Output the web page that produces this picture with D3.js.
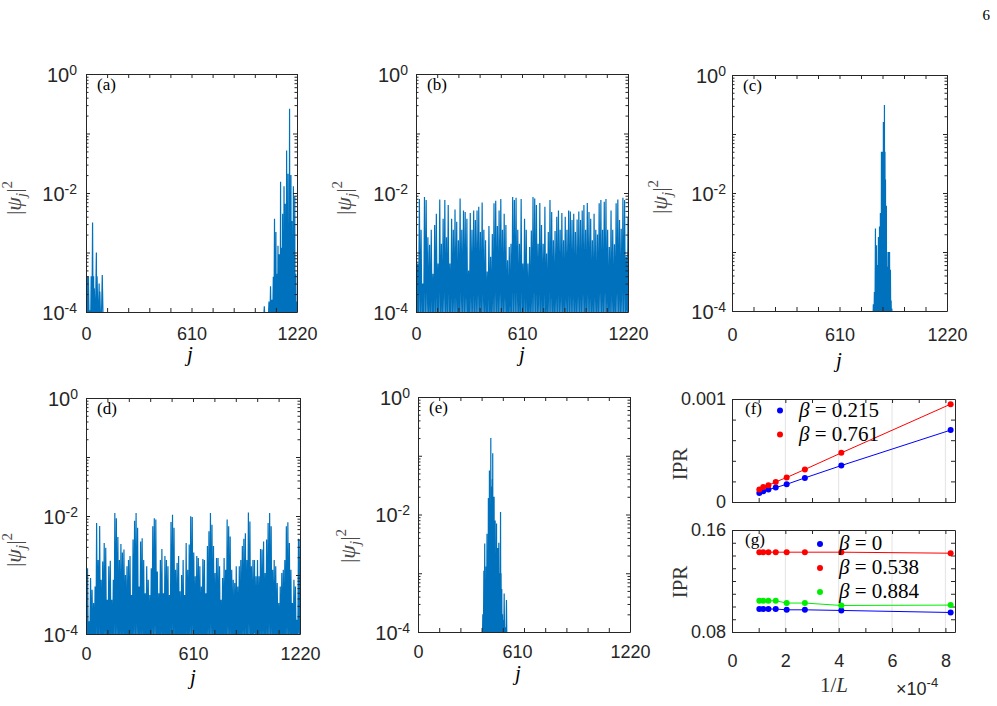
<!DOCTYPE html>
<html>
<head>
<meta charset="utf-8">
<script src="https://cdn.jsdelivr.net/npm/d3@7/dist/d3.min.js"></script>
<style>
  body { margin: 0; background: #fff; }
  svg { display: block; }
</style>
</head>
<body>
<svg id="fig" width="997" height="706"></svg>
<script>
// ---- data ----
const jMax = 1220;
const psiFloor = 5e-5; // dips just below the 1e-4 axis floor between spikes

// (a) two separated clusters, [j, |psi_j|^2]
const psiA = [[8,4e-4],[14,4e-4],[23,1.07e-4],[30,4e-4],[38,3.2e-3],[44,4e-4],[48,2.5e-4],[60,1.0e-3],[64,4e-4],[76,3e-4],[80,2.2e-4],[94,4.2e-4],
  [1031,1.25e-4],[1058,1.5e-4],[1067,2.7e-4],[1075,1.6e-4],[1083,3.9e-4],[1090,3.7e-3],[1094,6e-4],[1098,2.2e-3],[1102,3e-4],[1106,4.4e-4],
  [1110,1.3e-3],[1114,2.5e-4],[1117,9.3e-4],[1121,6e-4],[1125,0.0155],[1129,4e-4],[1133,1.2e-3],[1137,4.5e-3],[1141,8e-4],[1145,0.013],
  [1149,3e-4],[1152,6.6e-3],[1156,1.5e-3],[1160,0.052],[1164,6e-4],[1168,0.021],[1172,2e-3],[1177,0.26],[1181,1.1e-3],[1185,0.02],
  [1188,5e-4],[1191,3.4e-3],[1195,1e-3],[1199,0.013],[1203,6e-4],[1207,9e-3],[1210,3e-4],[1213,4.4e-4],[1217,1.5e-4]];

// (b) extended state, spike heights sampled evenly over j
const psiB = [3.9e-3,6.5e-4,7.9e-3,2.4e-3,3.0e-4,8.6e-3,7.6e-3,1.8e-3,1.35e-3,2.4e-3,
  4.4e-4,2.9e-3,4.5e-3,6.5e-4,7.8e-3,1.4e-3,3.7e-3,7.6e-3,1.8e-3,6.3e-3,
  6.5e-4,3.7e-3,2.4e-3,5.3e-3,3.3e-3,1.6e-3,8.1e-3,2.4e-3,5.1e-3,4.8e-3,
  3.7e-3,5.0e-4,4.6e-3,2.4e-3,5.1e-3,3.5e-3,5.1e-3,5.9e-3,2.2e-3,6.9e-3,
  2.4e-3,1.6e-3,4.8e-4,2.8e-3,8.5e-4,2.05e-3,6.7e-3,7.4e-3,2.8e-3,5.1e-3,
  7.9e-3,2.4e-3,4.5e-3,2.9e-3,7.4e-4,1.24e-3,1.4e-3,8.6e-3,7.6e-3,8.3e-3,
  2.4e-3,1.4e-3,7.9e-3,6.5e-4,3.7e-3,2.4e-3,6.5e-4,1.24e-3,2.35e-3,8.6e-3,
  8.1e-3,6.3e-3,1.4e-3,6.8e-3,2.9e-3,1.4e-3,5.9e-3,9.6e-4,2.2e-3,7.6e-3,
  4.8e-3,1.6e-3,2.3e-3,4.0e-3,5.1e-3,2.4e-3,4.6e-3,1.6e-3,4.0e-3,2.4e-3,
  5.1e-3,4.9e-3,3.5e-3,4.5e-3,2.2e-3,3.6e-3,4.9e-3,3.5e-3,5.1e-3,6.3e-3,
  2.4e-3,6.8e-3,4.8e-3,3.7e-3,1.6e-3,4.5e-3,2.4e-3,2.0e-3,6.7e-3,7.6e-3,
  2.4e-3,7.1e-3,7.9e-3,2.4e-3,1.24e-3,5.1e-3,2.4e-3,1.38e-3,6.7e-3,7.8e-3,
  3.5e-3,2.5e-3,8.3e-3,7.6e-3,8.5e-4,3.9e-3];

// (c) localized state, [j, |psi_j|^2]
const psiC = [[802,1.3e-4],[808,2.1e-4],[814,2.5e-3],[817,4e-4],[820,1.3e-3],[825,6e-4],[831,1.8e-3],[834,5e-4],[837,2.7e-3],[840,1.2e-3],
  [842,4.6e-3],[845,2e-3],[848,0.05],[851,0.01],[854,0.05],[857,0.02],[859,0.16],[862,0.04],[865,0.31],[868,0.05],[871,0.017],
  [874,3e-3],[876,6.1e-3],[879,1e-3],[882,5.6e-4],[885,2e-4],[888,1e-3],[891,3e-4],[894,1e-3],[897,2e-4],[899,5e-4],[903,1.5e-4],[907,1.1e-4]];

// (d) extended state, spike heights sampled evenly over j
const psiD = [3.0e-3,1.3e-3,1.64e-4,8.9e-4,5.6e-4,3.35e-4,6.4e-4,7.6e-3,1.8e-3,6.8e-3,
  8.3e-4,1.7e-3,3.5e-3,2.9e-3,3.8e-4,1.4e-3,1.75e-3,3.8e-4,8.3e-4,0.0112,
  9.2e-3,4.4e-3,1.8e-3,3.35e-3,2.4e-3,2.7e-3,1.0e-3,1.4e-3,1.8e-3,2.1e-3,
  4.6e-4,4.0e-3,8.3e-3,0.0112,6.3e-3,6.4e-4,3.7e-3,4.2e-3,1.8e-3,4.9e-4,
  1.4e-3,8.3e-4,4.6e-4,1.3e-3,6.7e-3,9.2e-3,8.7e-3,1.15e-3,4.9e-4,1.8e-3,
  2.75e-3,4.9e-4,2.1e-3,1.8e-3,1.4e-3,4.6e-4,7.9e-3,0.0105,6.3e-3,1.23e-3,
  1.6e-3,2.1e-3,5.3e-4,1.0e-3,1.8e-3,4.6e-4,3.5e-3,1.23e-3,3.3e-3,9.9e-3,
  9.6e-3,2.4e-3,9.5e-4,2.1e-3,1.94e-3,1.4e-3,6.4e-4,1.87e-3,1.8e-3,4.9e-4,
  3.1e-3,5.5e-3,0.0112,7.1e-3,3.1e-3,1.08e-3,1.94e-3,1.94e-3,1.4e-3,3.8e-4,
  8.9e-4,1.94e-3,1.23e-3,8.7e-3,6.7e-3,4.5e-3,1.23e-3,8.3e-4,7.3e-4,1.4e-3,
  6.4e-4,1.4e-3,1.8e-3,3.1e-3,4.1e-3,5.1e-3,1.8e-3,0.0115,8.1e-3,1.4e-3,
  1.8e-3,1.8e-3,9.5e-4,1.8e-3,9.5e-4,2.75e-3,2.7e-3,3.7e-3,1.08e-3,4.0e-3,
  7.6e-3,0.0112,6.7e-3,1.23e-3,1.8e-3,1.4e-3,7.3e-4,3.35e-4,6.4e-4,1.08e-3,
  1.23e-3,1.8e-3,6.7e-3,7.8e-3,3.5e-3,1.23e-3,3.35e-4,8.3e-4,6.4e-4,1.75e-4,
  4.1e-3,4.0e-3];

// (e) localized state, [j, |psi_j|^2]
const psiE = [[373,2e-4],[379,1.1e-3],[384,3.2e-3],[388,3e-4],[392,1.3e-3],[397,4.7e-3],[401,8e-4],[405,0.019],[408,3e-3],[411,0.056],
  [415,0.01],[419,0.2],[422,0.03],[425,1.9e-3],[428,0.04],[430,0.11],[434,0.02],[438,0.02],[441,5e-3],[444,7.9e-3],[448,2e-3],
  [452,7e-3],[455,1.5e-3],[458,2.7e-3],[461,8e-4],[465,3.3e-3],[470,1e-3],[475,0.011],[478,1e-3],[482,5.4e-4],[486,2e-4],
  [490,1.6e-4],[496,4.5e-4],[502,1.2e-4],[509,3.5e-4]];

// (f), (g) IPR scaling, ordered by L
const sizesL = [1220, 2440, 3660, 4880, 6100, 7320, 8540, 9760];
const iprF = [
  { beta: "0.215", color: "#0000ff", values: [6.98e-4, 3.54e-4, 2.34e-4, 1.72e-4, 1.40e-4, 1.21e-4, 1.04e-4, 0.88e-4] },
  { beta: "0.761", color: "#ff0000", values: [9.5e-4, 4.77e-4, 3.16e-4, 2.38e-4, 1.95e-4, 1.63e-4, 1.46e-4, 1.21e-4] }
];
const iprG = [
  { beta: "0", color: "#0000ff", values: [0.0953, 0.0969, 0.0974, 0.0974, 0.098, 0.098, 0.098, 0.098] },
  { beta: "0.538", color: "#ff0000", values: [0.1418, 0.1426, 0.1426, 0.1426, 0.1426, 0.1426, 0.1426, 0.1426] },
  { beta: "0.884", color: "#00ee00", values: [0.1011, 0.1008, 0.1027, 0.1027, 0.1045, 0.1045, 0.1045, 0.1045] }
];

// ---- drawing ----
const svg = d3.select("#fig");
const axisColor = "#262626";
const traceColor = "#0072bd";
const sansFont = "'Liberation Sans', Arial, sans-serif";
const serifFont = "'Liberation Serif', 'Times New Roman', serif";

// page number
svg.append("text").attr("x", 990).attr("y", 20).attr("text-anchor", "end")
  .attr("font-family", serifFont).attr("font-size", 15).text("6");

function evenly(values) {
  return values.map((v, i) => [i * jMax / (values.length - 1), v]);
}

// spike trace: each reading is a narrow spike that falls just below the axis on both sides
function trace(peaks) {
  const pts = [];
  peaks.forEach((p, i) => {
    const prev = peaks[i - 1], next = peaks[i + 1];
    const left = prev ? Math.min((p[0] - prev[0]) / 2, 6) : 3;
    const right = next ? Math.min((next[0] - p[0]) / 2, 6) : 3;
    pts.push([p[0] - left, psiFloor], p, [p[0] + right, psiFloor]);
  });
  return pts;
}

function styleAxis(sel) {
  sel.attr("color", axisColor).attr("font-family", sansFont).attr("font-size", 18);
  sel.selectAll("text").attr("fill", axisColor);
}

function drawPsiPanel(p) {
  const [x0, x1, y0, y1] = p.box;
  const x = d3.scaleLinear().domain([0, jMax]).range([x0, x1]);
  const y = d3.scaleLog().domain([1e-4, 1]).range([y1, y0]);
  const g = svg.append("g");

  g.append("clipPath").attr("id", "clip-" + p.name)
    .append("rect").attr("x", x0).attr("y", y0).attr("width", x1 - x0).attr("height", y1 - y0);

  g.append("path")
    .datum(trace(p.peaks))
    .attr("clip-path", `url(#clip-${p.name})`)
    .attr("fill", "none")
    .attr("stroke", traceColor)
    .attr("stroke-width", 1.2)
    .attr("d", d3.line().x(d => x(d[0])).y(d => y(d[1])));

  const xTicks = d3.range(0, jMax + 1, 122);
  const allY = y.ticks();
  const majorY = allY.filter(v => Math.abs(Math.log10(v) - Math.round(Math.log10(v))) < 1e-9);
  const minorY = allY.filter(v => !majorY.includes(v));

  // bottom with labels
  const bx = g.append("g").attr("transform", `translate(0,${y1})`)
    .call(d3.axisBottom(x).tickValues(xTicks).tickSizeInner(-4).tickSizeOuter(0).tickPadding(p.xPad)
      .tickFormat(d => (d === 0 || d === 610 || d === 1220) ? d : ""));
  styleAxis(bx);
  if (p.midShift) bx.selectAll(".tick text").filter(d => d === 610).attr("dx", p.midShift);
  // top
  styleAxis(g.append("g").attr("transform", `translate(0,${y0})`)
    .call(d3.axisTop(x).tickValues(xTicks).tickSizeInner(-4).tickSizeOuter(0).tickFormat("")));

  // left majors with 10^n labels
  const ly = g.append("g").attr("transform", `translate(${x0},0)`)
    .call(d3.axisLeft(y).tickValues(majorY).tickSizeInner(-4).tickSizeOuter(0).tickPadding(p.yPad).tickFormat(""));
  styleAxis(ly);
  ly.selectAll(".tick text").each(function (d) {
    const e = Math.round(Math.log10(d));
    if (e % 2 !== 0) return;
    const t = d3.select(this).attr("dy", "0.36em").attr("font-size", 20);
    t.append("tspan").text("10");
    t.append("tspan").attr("font-size", 14).attr("dy", "-0.5em").text(String(e));
  });
  styleAxis(g.append("g").attr("transform", `translate(${x0},0)`)
    .call(d3.axisLeft(y).tickValues(minorY).tickSizeInner(-2.5).tickSizeOuter(0).tickFormat(""))
    .call(s => s.select(".domain").remove()));
  // right
  styleAxis(g.append("g").attr("transform", `translate(${x1},0)`)
    .call(d3.axisRight(y).tickValues(majorY).tickSizeInner(-4).tickSizeOuter(0).tickFormat("")));
  styleAxis(g.append("g").attr("transform", `translate(${x1},0)`)
    .call(d3.axisRight(y).tickValues(minorY).tickSizeInner(-2.5).tickSizeOuter(0).tickFormat(""))
    .call(s => s.select(".domain").remove()));

  // panel label
  g.append("text").attr("x", x0 + 11).attr("y", y0 + 16)
    .attr("font-family", serifFont).attr("font-size", 17).text(`(${p.name})`);

  // x label
  g.append("text").attr("x", p.xLab[0]).attr("y", p.xLab[1]).attr("text-anchor", "middle")
    .attr("font-family", serifFont).attr("font-style", "italic").attr("font-size", 21).text("j");

  // y label |psi_j|^2
  const yl = g.append("text")
    .attr("transform", `translate(${p.yLab[0]},${p.yLab[1]}) rotate(-90)`)
    .attr("text-anchor", "middle").attr("font-family", serifFont)
    .attr("font-size", 22).attr("fill", "#4a4a4a");
  yl.append("tspan").text("|");
  yl.append("tspan").attr("font-style", "italic").text("ψ");
  yl.append("tspan").attr("font-style", "italic").attr("font-size", 15).attr("dy", 5).text("j");
  yl.append("tspan").attr("dy", -5).text("|");
  yl.append("tspan").attr("font-size", 15).attr("dy", -9).text("2");
}

drawPsiPanel({ name: "a", box: [86, 297, 74, 312], peaks: psiA, xPad: 15, yPad: 9, xLab: [190, 361], yLab: [21, 198] });
drawPsiPanel({ name: "b", box: [416, 628, 74, 312], peaks: evenly(psiB), xPad: 15, yPad: 8, xLab: [522, 361], yLab: [351, 198] });
drawPsiPanel({ name: "c", box: [732, 947, 75, 311], peaks: psiC, xPad: 17, yPad: 6, xLab: [839, 367], yLab: [667, 197] });
drawPsiPanel({ name: "d", box: [86, 300, 398, 634], peaks: evenly(psiD), xPad: 13, yPad: 8, xLab: [193, 684], yLab: [21, 550] });
drawPsiPanel({ name: "e", box: [418, 630, 397, 632], peaks: psiE, xPad: 13, yPad: 8, midShift: -7, xLab: [518, 680], yLab: [355, 546] });

// ---- IPR panels ----
const invL = sizesL.map(L => 1 / L);
const xInv = d3.scaleLinear().domain([0, 8.36e-4]).range([732, 955]);
const invTicks = d3.range(0, 9).map(k => k * 1e-4);

function drawIprPanel(p) {
  const [y0, y1] = p.yRange;
  const y = d3.scaleLinear().domain(p.domain).range([y1, y0]);
  const g = svg.append("g");
  const [x0, x1] = xInv.range();

  // vertical grid
  g.append("g").selectAll("line").data(invTicks.filter((d, i) => i > 0 && i % 2 === 0)).join("line")
    .attr("x1", d => xInv(d)).attr("x2", d => xInv(d)).attr("y1", y0).attr("y2", y1)
    .attr("stroke", "#e3e3e3").attr("stroke-width", 1);

  const bx = g.append("g").attr("transform", `translate(0,${y1})`)
    .call(d3.axisBottom(xInv).tickValues(invTicks).tickSizeInner(-4).tickSizeOuter(0).tickPadding(22)
      .tickFormat((d, i) => (p.xLabels && i % 2 === 0) ? String(i) : ""));
  styleAxis(bx);
  styleAxis(g.append("g").attr("transform", `translate(0,${y0})`)
    .call(d3.axisTop(xInv).tickValues(invTicks).tickSizeInner(-4).tickSizeOuter(0).tickFormat("")));
  const ly = g.append("g").attr("transform", `translate(${x0},0)`)
    .call(d3.axisLeft(y).tickValues(p.yTicks).tickSizeInner(-4).tickSizeOuter(0).tickPadding(6)
      .tickFormat(d => p.yLabels.has(d) ? p.yLabels.get(d) : ""));
  styleAxis(ly);
  styleAxis(g.append("g").attr("transform", `translate(${x1},0)`)
    .call(d3.axisRight(y).tickValues(p.yTicks).tickSizeInner(-4).tickSizeOuter(0).tickFormat("")));

  const line = d3.line().x(d => xInv(d[0])).y(d => y(d[1]));
  p.series.forEach(s => {
    const pts = invL.map((v, i) => [v, s.values[i]]);
    g.append("path").datum(pts).attr("fill", "none").attr("stroke", s.color).attr("stroke-width", 1).attr("d", line);
    g.append("g").selectAll("circle").data(pts).join("circle")
      .attr("cx", d => xInv(d[0])).attr("cy", d => y(d[1])).attr("r", 3)
      .attr("fill", s.color);
  });

  // legend
  p.series.forEach((s, i) => {
    const ly0 = p.legend[1] + i * 24;
    g.append("circle").attr("cx", p.legend[0]).attr("cy", ly0).attr("r", 3).attr("fill", s.color);
    const t = g.append("text").attr("x", p.legend[0] + 19).attr("y", ly0 + 6)
      .attr("font-family", serifFont).attr("font-size", 21);
    t.append("tspan").attr("font-style", "italic").text("β");
    t.append("tspan").text(" = " + s.beta);
  });

  g.append("text").attr("x", x0 + 13).attr("y", y0 + 15)
    .attr("font-family", serifFont).attr("font-size", 17).text(`(${p.name})`);

  g.append("text").attr("transform", `translate(${687},${p.iprY}) rotate(-90)`)
    .attr("text-anchor", "middle").attr("font-family", serifFont).attr("font-size", 21)
    .attr("fill", "#333").text("IPR");
}

drawIprPanel({
  name: "f", yRange: [399, 502], domain: [0, 0.001], series: iprF,
  yTicks: [0, 2e-4, 4e-4, 6e-4, 8e-4, 1e-3], yLabels: new Map([[0, "0"], [1e-3, "0.001"]]),
  legend: [780, 410.5], iprY: 464, xLabels: false
});
drawIprPanel({
  name: "g", yRange: [530, 632], domain: [0.08, 0.16], series: iprG,
  yTicks: d3.range(0, 9).map(k => 0.08 + k * 0.01), yLabels: new Map([[0.08, "0.08"], [0.16, "0.16"]]),
  legend: [820, 544], iprY: 582, xLabels: true
});

// x label of (g) and exponent
const xl = svg.append("text").attr("x", 834).attr("y", 692).attr("text-anchor", "middle")
  .attr("font-family", serifFont).attr("font-size", 21).attr("fill", "#333");
xl.append("tspan").text("1/");
xl.append("tspan").attr("font-style", "italic").text("L");
const ex = svg.append("text").attr("x", 896).attr("y", 695)
  .attr("font-family", sansFont).attr("font-size", 18).attr("fill", axisColor);
ex.append("tspan").text("×10");
ex.append("tspan").attr("font-size", 13).attr("dy", -8).text("-4");
</script>
</body>
</html>
